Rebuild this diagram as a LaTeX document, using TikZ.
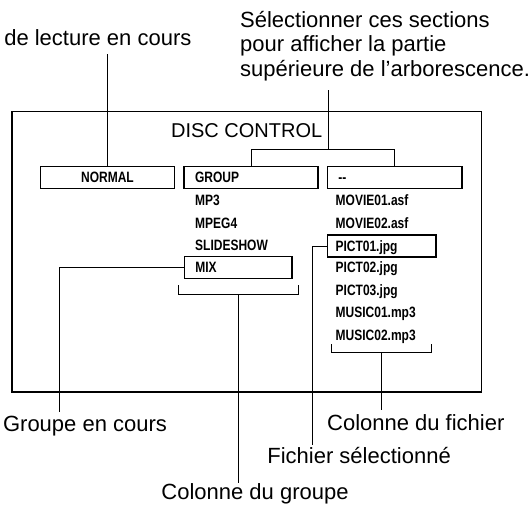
\documentclass[tikz,border=0pt]{standalone}
\usepackage{fontspec}
\setmainfont{Liberation Sans}
\newfontfamily\boxfont[FakeStretch=0.8]{Liberation Sans Bold}
\begin{document}
\begin{tikzpicture}[x=1pt,y=-1pt,
  frame/.style={draw, line width=1.3pt},
  box/.style={draw, line width=1.3pt, rectangle, minimum height=22pt, inner ysep=0pt,
    text height=10.5pt, text depth=0pt, font=\boxfont\fontsize{15}{15}\selectfont},
  lbox/.style={box, align=left, inner xsep=11pt},
  rowtxt/.style={inner sep=0pt, anchor=west, text height=10.5pt, text depth=0pt,
    font=\boxfont\fontsize{15}{15}\selectfont},
  lab/.style={inner sep=0pt, font=\fontsize{22}{22}\selectfont},
  conn/.style={line width=1pt},
  brk/.style={line width=1pt}]
\path[use as bounding box] (0,0) rectangle (529,507);

% frame
\draw[frame] (12,111.5) rectangle (481.7,392);
\node[lab, anchor=base, font=\fontsize{20}{20}\selectfont] (title) at (246.7,137.3) {DISC CONTROL};

% boxes
\node[box, minimum width=134.4pt, text width=134.4pt, align=center, inner xsep=0pt] (normal) at (107.5,177.7) {NORMAL};
\node[lbox, minimum width=134pt, text width=112pt] (grp) at (251,177.7) {GROUP};
\node[lbox, minimum width=134.5pt, text width=112.5pt] (dash) at (394.7,177.7) {--};
\node[lbox, minimum width=107.8pt, text width=85.8pt] (mix) at (238.2,267.5) {MIX};
\node[lbox, minimum width=108.6pt, text width=92.6pt, inner xsep=8pt] (pict1) at (381.8,246.1) {PICT01.jpg};

% group column rows
\node[rowtxt] (mp3) at (195,200.4) {MP3};
\node[rowtxt] (mpeg4) at (195,222.8) {MPEG4};
\node[rowtxt] (slide) at (195,245.2) {SLIDESHOW};

% file column rows
\node[rowtxt] (mov1) at (335.5,200.4) {MOVIE01.asf};
\node[rowtxt] (mov2) at (335.5,222.8) {MOVIE02.asf};
\node[rowtxt] (pict2) at (335.5,267.6) {PICT02.jpg};
\node[rowtxt] (pict3) at (335.5,290) {PICT03.jpg};
\node[rowtxt] (mus1) at (335.5,312.4) {MUSIC01.mp3};
\node[rowtxt] (mus2) at (335.5,334.8) {MUSIC02.mp3};

% brackets
\coordinate (gbl) at (178.3,285);
\coordinate (gbr) at (298.2,285);
\coordinate (gbm) at (238.25,294);
\draw[brk] (gbl) |- (gbr |- gbm) -- (gbr);
\coordinate (fbl) at (331.6,344.3);
\coordinate (fbr) at (431.7,344.3);
\coordinate (fbm) at (381.65,352.8);
\draw[brk] (fbl) |- (fbr |- fbm) -- (fbr);

% labels
\node[lab, anchor=base east] (mode) at (191.6,45) {de lecture en cours};
\node[lab, anchor=base west] (sel1) at (240,27) {Sélectionner ces sections};
\node[lab, anchor=base west] (sel2) at (240,51.5) {pour afficher la partie};
\node[lab, anchor=base west] (sel3) at (240,76) {supérieure de l’arborescence.};
\node[lab, anchor=base] (gec) at (85,431.7) {Groupe en cours};
\node[lab, anchor=base] (cdf) at (415.8,430) {Colonne du fichier};
\node[lab, anchor=base east] (fsel) at (451,463.3) {Fichier sélectionné};
\node[lab, anchor=base] (cdg) at (255,499.3) {Colonne du groupe};

% connector end points
\coordinate (modetop) at (107.5,54);
\coordinate (seltop) at (328.7,90);
\coordinate (fork) at (328.7,149.5);
\coordinate (gecend) at (59.7,412);
\coordinate (fsend) at (312.7,445);
\coordinate (cdgend) at (238.25,483);
\coordinate (cdfend) at (381.65,410);

% connectors
\draw[conn] (modetop) -- (normal.north);
\draw[conn] (seltop) -- (fork);
\draw[conn] (grp.north) |- (fork) -| (dash.north);
\draw[conn] (mix.west) -| (gecend);
\draw[conn] (pict1.west) -| (fsend);
\draw[conn] (gbm) -- (cdgend);
\draw[conn] (fbm) -- (cdfend);
\end{tikzpicture}
\end{document}
